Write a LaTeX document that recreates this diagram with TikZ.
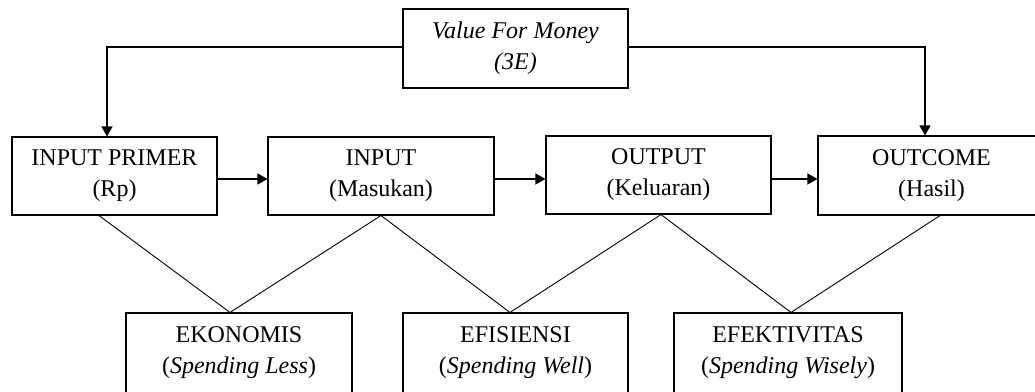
\documentclass[tikz,border=0pt]{standalone}
\usepackage{fontspec}
\setmainfont{Liberation Serif}
\usetikzlibrary{arrows.meta}
\begin{document}
\begin{tikzpicture}[x=1pt,y=-1pt,
  box/.style={draw, line width=1.1pt, inner sep=0pt, align=center,
    font=\fontsize{24}{31}\selectfont},
  arr/.style={line width=1.3pt, -{Triangle[length=10pt,width=11pt]}},
  thin/.style={line width=0.9pt}]
\useasboundingbox (0,0) rectangle (1035,391);
\clip (0,0) rectangle (1035,391);
\node[box, minimum width=225pt, minimum height=79pt] (vfm) at (515.5,48.5) {\textit{Value For Money}\\\textit{(3E)}};
\node[box, minimum width=205pt, minimum height=78pt] (ip) at (114.5,176) {INPUT PRIMER\\(Rp)};
\node[box, minimum width=226pt, minimum height=78pt] (in) at (381,176) {INPUT\\(Masukan)};
\node[box, minimum width=225pt, minimum height=78pt] (out) at (658.5,175) {OUTPUT\\(Keluaran)};
\node[box, minimum width=227pt, minimum height=79pt] (oc) at (931.5,175.5) {OUTCOME\\(Hasil)};
\node[box, minimum width=226pt, minimum height=80pt] (ek) at (239,353) {EKONOMIS\\(\textit{Spending Less})};
\node[box, minimum width=225pt, minimum height=80pt] (ef) at (515.5,353) {EFISIENSI\\(\textit{Spending Well})};
\node[box, minimum width=228pt, minimum height=80pt] (ev) at (788,353) {EFEKTIVITAS\\(\textit{Spending Wisely})};
\coordinate (cl) at (107,47);
\coordinate (cr) at (925,47);
\draw[arr] (vfm.west |- cl) -- (cl) -- (cl |- ip.north);
\draw[arr] (vfm.east |- cr) -- (cr) -- (cr |- oc.north);
\draw[arr] (ip.east |- 0,179) -- (in.west |- 0,179);
\draw[arr] (in.east |- 0,179) -- (out.west |- 0,179);
\draw[arr] (out.east |- 0,179) -- (oc.west |- 0,179);
\coordinate (ipb) at (99,215);
\coordinate (inb) at (381,215);
\coordinate (outb) at (661,214);
\coordinate (ocb) at (940,215);
\coordinate (ekt) at (230,313);
\coordinate (eft) at (510,313);
\coordinate (evt) at (791,313);
\draw[thin] (ip.south -| ipb) -- (ek.north -| ekt) -- (in.south -| inb) -- (ef.north -| eft) -- (out.south -| outb) -- (ev.north -| evt) -- (oc.south -| ocb);
\end{tikzpicture}
\end{document}
